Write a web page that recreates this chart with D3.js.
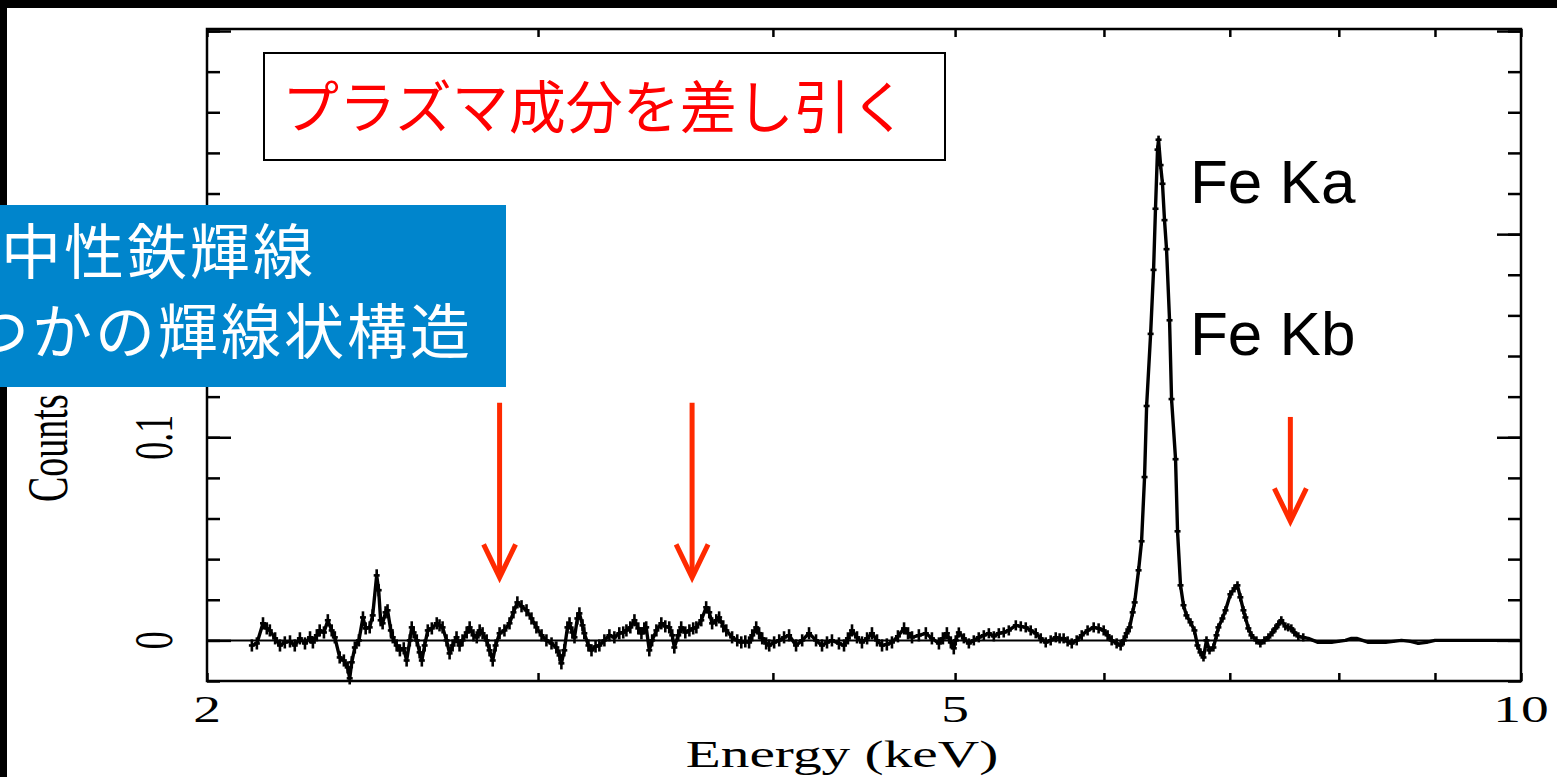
<!DOCTYPE html>
<html>
<head>
<meta charset="utf-8">
<script src="https://cdn.jsdelivr.net/npm/d3@7"></script>
<style>
  body { margin: 0; background: #000; }
  svg { display: block; }
</style>
</head>
<body>
<script>
// spectrum: energy (keV) and counts
var energy = [
  2.113,2.126,2.142,2.152,2.160,2.174,2.187,2.200,2.214,2.227,
  2.241,2.255,2.269,2.277,2.288,2.296,2.308,2.319,2.330,2.339,
  2.353,2.365,2.376,2.382,2.388,2.397,2.409,2.421,2.429,2.441,
  2.450,2.462,2.468,2.474,2.480,2.489,2.495,2.505,2.511,2.523,
  2.533,2.545,2.554,2.564,2.570,2.576,2.586,2.595,2.602,2.611,
  2.621,2.634,2.650,2.659,2.669,2.682,2.692,2.702,2.715,2.725,
  2.735,2.749,2.759,2.772,2.783,2.793,2.803,2.817,2.827,2.838,
  2.848,2.862,2.879,2.897,2.911,2.925,2.940,2.958,2.976,2.994,
  3.013,3.031,3.050,3.068,3.080,3.087,3.098,3.110,3.118,3.129,
  3.137,3.148,3.156,3.168,3.175,3.191,3.203,3.219,3.234,3.254,
  3.274,3.294,3.314,3.330,3.343,3.359,3.376,3.392,3.405,3.417,
  3.425,3.438,3.450,3.468,3.489,3.506,3.523,3.536,3.545,3.562,
  3.575,3.593,3.611,3.628,3.642,3.664,3.686,3.700,3.713,3.732,
  3.745,3.764,3.778,3.805,3.829,3.848,3.867,3.885,3.900,3.919,
  3.933,3.948,3.967,3.982,4.006,4.031,4.055,4.080,4.115,4.146,
  4.181,4.217,4.248,4.274,4.300,4.337,4.364,4.385,4.407,4.434,
  4.461,4.489,4.516,4.544,4.572,4.599,4.628,4.662,4.697,4.720,
  4.743,4.783,4.824,4.860,4.902,4.926,4.950,4.974,4.992,5.004,
  5.023,5.054,5.085,5.116,5.147,5.179,5.211,5.243,5.275,5.307,
  5.340,5.386,5.419,5.452,5.485,5.519,5.553,5.587,5.621,5.656,
  5.683,5.711,5.739,5.768,5.803,5.839,5.881,5.925,5.961,5.998,
  6.027,6.057,6.094,6.124,6.147,6.169,6.192,6.215,6.230,6.260,
  6.283,6.306,6.322,6.353,6.376,6.391,6.407,6.415,6.431,6.446,
  6.462,6.478,6.502,6.518,6.550,6.566,6.590,6.614,6.638,6.671,
  6.703,6.728,6.753,6.778,6.803,6.828,6.861,6.887,6.903,6.937,
  6.963,7.005,7.040,7.066,7.091,7.118,7.135,7.161,7.188,7.232,
  7.267,7.303,7.339,7.375,7.402,7.429,7.456,7.493,7.520,7.548,
  7.576,7.613,7.659,7.706,7.753,7.800,7.868,7.926,7.994,8.065,
  8.125,8.176,8.236,8.297,8.378,8.469,8.552,8.638,8.734,8.819,
  8.905,9.000,9.148,9.318,9.488,9.666,9.845,9.980
];
var counts = [
  -0.0025,-0.0015,0.0084,0.0059,0.0049,0.0010,-0.0025,-0.0010,-0.0005,-0.0025,
  0.0010,-0.0015,0.0015,-0.0010,0.0025,0.0049,0.0039,0.0099,0.0049,0.0015,
  -0.0084,-0.0099,-0.0133,-0.0187,-0.0108,-0.0035,0.0000,0.0113,0.0059,0.0064,
  0.0123,0.0320,0.0247,0.0099,0.0084,0.0138,0.0148,0.0049,0.0015,-0.0025,
  -0.0049,-0.0039,-0.0099,0.0000,0.0064,0.0039,0.0000,-0.0059,-0.0099,-0.0025,
  0.0049,0.0059,0.0084,0.0074,0.0064,0.0000,-0.0064,-0.0025,0.0015,-0.0025,
  0.0000,0.0039,0.0064,0.0025,0.0015,0.0049,0.0035,0.0000,-0.0049,-0.0099,
  -0.0025,0.0035,0.0049,0.0084,0.0138,0.0187,0.0168,0.0148,0.0108,0.0064,
  0.0025,0.0000,-0.0015,-0.0035,-0.0074,-0.0113,-0.0049,0.0064,0.0084,0.0039,
  0.0015,0.0108,0.0133,0.0074,0.0035,-0.0025,-0.0049,-0.0030,-0.0025,0.0000,
  0.0025,0.0015,0.0035,0.0039,0.0049,0.0064,0.0099,0.0059,0.0035,0.0059,
  0.0064,-0.0049,0.0000,0.0049,0.0084,0.0069,0.0064,0.0025,-0.0035,0.0025,
  0.0064,0.0039,0.0049,0.0059,0.0064,0.0099,0.0163,0.0138,0.0084,0.0099,
  0.0113,0.0069,0.0049,0.0015,0.0000,-0.0010,-0.0005,-0.0010,0.0025,0.0064,
  0.0035,0.0010,-0.0015,-0.0025,-0.0010,0.0000,0.0015,0.0025,-0.0025,0.0000,
  0.0035,0.0000,-0.0025,-0.0010,0.0000,-0.0015,-0.0025,0.0010,0.0049,0.0015,
  -0.0010,0.0010,0.0035,0.0000,-0.0025,-0.0020,-0.0010,0.0020,0.0059,0.0035,
  0.0015,0.0025,0.0035,0.0010,-0.0015,0.0010,0.0035,-0.0010,-0.0039,0.0000,
  0.0039,0.0010,-0.0015,0.0000,0.0015,0.0025,0.0035,0.0020,0.0035,0.0039,
  0.0049,0.0074,0.0069,0.0064,0.0049,0.0035,0.0010,-0.0010,0.0000,0.0015,
  0.0010,0.0010,-0.0005,-0.0015,0.0000,0.0025,0.0049,0.0064,0.0059,0.0049,
  0.0025,0.0000,-0.0015,-0.0025,0.0000,0.0035,0.0064,0.0138,0.0187,0.0345,
  0.0488,0.0804,0.1154,0.1509,0.1824,0.2125,0.2416,0.2465,0.2340,0.2248,
  0.2069,0.1926,0.1576,0.1188,0.0892,0.0537,0.0271,0.0173,0.0123,0.0089,
  0.0049,-0.0025,-0.0059,-0.0084,0.0000,-0.0049,-0.0035,0.0025,0.0064,0.0108,
  0.0148,0.0227,0.0256,0.0271,0.0212,0.0148,0.0113,0.0059,0.0025,0.0000,
  -0.0015,0.0000,0.0015,0.0039,0.0059,0.0079,0.0099,0.0069,0.0064,0.0059,
  0.0039,0.0020,0.0015,0.0010,0.0000,-0.0010,-0.0010,-0.0010,-0.0005,0.0000,
  0.0010,0.0010,0.0000,-0.0010,-0.0010,-0.0010,-0.0005,0.0000,-0.0005,-0.0015,
  -0.0010,0.0000,0.0000,0.0000,0.0000,0.0000,0.0000,0.0000
];

// rough error size by energy band (upper edges, then values)
var errEdges = [5.0, 6.2, 7.7];
var errValues = [0.003, 0.0025, 0.002, 0.0006];

var xTicks = [2, 3, 4, 5, 6, 7, 8, 9, 10];
var xLabels = [2, 5, 10];
var yMajor = [0, 0.1, 0.2, 0.3];
var yLabels = [0, 0.1];

// red arrows: energy, top and tip in counts
var arrowEnergy = [2.862, 3.623, 7.539];
var arrowTop = [0.117, 0.117, 0.110];
var arrowTip = [0.031, 0.031, 0.0586];

var lineNames = ["Fe Ka", "Fe Kb"];
var boxTitle = "プラズマ成分を差し引く";
var noteLines = ["中性鉄輝線", "つかの輝線状構造"];

var width = 1557;
var height = 777;

var svg = d3.select("body").append("svg")
    .attr("width", width)
    .attr("height", height);

// black slide edge, white panel
svg.append("rect").attr("width", width).attr("height", height).attr("fill", "#000");
svg.append("rect").attr("x", 7).attr("y", 8)
    .attr("width", width - 7).attr("height", height - 8).attr("fill", "#fff");

// plot box (note: "top" is taken by window.top, so prefixed names)
var pLeft = 207, pRight = 1521, pTop = 29, pBottom = 681;

var xScale = d3.scaleLog().domain([2, 10]).range([pLeft, pRight]);
var yScale = d3.scaleLinear().domain([-0.02, 0.301]).range([pBottom, pTop]);

function tidy(g) {
    g.select(".domain").remove();
    g.selectAll(".tick line").attr("stroke", "#000").attr("stroke-width", 2.5);
}

// x ticks, pointing inward on bottom and top
svg.append("g").attr("transform", "translate(0," + pBottom + ")")
    .call(d3.axisBottom(xScale).tickValues(xTicks).tickSizeInner(-8).tickSizeOuter(0).tickFormat(""))
    .call(tidy);
svg.append("g").attr("transform", "translate(0," + pTop + ")")
    .call(d3.axisTop(xScale).tickValues(xTicks).tickSizeInner(-8).tickSizeOuter(0).tickFormat(""))
    .call(tidy);

// y ticks, minor every 0.02 and major every 0.1
var yMinor = d3.range(-1, 16).map(function (i) { return i * 0.02; });
[[d3.axisLeft, pLeft], [d3.axisRight, pRight]].forEach(function (a) {
    svg.append("g").attr("transform", "translate(" + a[1] + ",0)")
        .call(a[0](yScale).tickValues(yMinor).tickSizeInner(-13).tickSizeOuter(0).tickFormat(""))
        .call(tidy);
    svg.append("g").attr("transform", "translate(" + a[1] + ",0)")
        .call(a[0](yScale).tickValues(yMajor).tickSizeInner(-24).tickSizeOuter(0).tickFormat(""))
        .call(tidy);
});

// frame
svg.append("rect")
    .attr("x", pLeft).attr("y", pTop)
    .attr("width", pRight - pLeft).attr("height", pBottom - pTop)
    .attr("fill", "none").attr("stroke", "#000").attr("stroke-width", 2.5);

// zero line
svg.append("line")
    .attr("x1", xScale(2)).attr("x2", xScale(10))
    .attr("y1", yScale(0)).attr("y2", yScale(0))
    .attr("stroke", "#000").attr("stroke-width", 2);

// spectrum
var data = energy.map(function (e, i) {
    var k = d3.bisectRight(errEdges, e);
    return { e: e, c: counts[i], err: errValues[k] };
});

var marks = svg.append("g").attr("stroke", "#000").attr("stroke-width", 2.6);
marks.selectAll("line.err").data(data).enter().append("line")
    .attr("class", "err")
    .attr("x1", function (d) { return xScale(d.e); })
    .attr("x2", function (d) { return xScale(d.e); })
    .attr("y1", function (d) { return yScale(d.c - d.err); })
    .attr("y2", function (d) { return yScale(d.c + d.err); });
marks.selectAll("line.bin").data(data.filter(function (d) { return d.e < 7.7; })).enter().append("line")
    .attr("class", "bin")
    .attr("x1", function (d) { return xScale(d.e) - 3; })
    .attr("x2", function (d) { return xScale(d.e) + 3; })
    .attr("y1", function (d) { return yScale(d.c); })
    .attr("y2", function (d) { return yScale(d.c); });

svg.append("path").datum(data)
    .attr("d", d3.line().x(function (d) { return xScale(d.e); }).y(function (d) { return yScale(d.c); }))
    .attr("fill", "none").attr("stroke", "#000")
    .attr("stroke-width", 3.4).attr("stroke-linejoin", "round");

// tick labels and axis titles (serif, stretched sideways like the scan)
var serif = "'Liberation Serif', 'Times New Roman', serif";

svg.append("g").selectAll("text").data(xLabels).enter().append("text")
    .attr("transform", function (d) { return "translate(" + xScale(d) + ",722) scale(1.5,1)"; })
    .attr("text-anchor", "middle")
    .style("font-family", serif).style("font-size", "37px")
    .text(function (d) { return d; });

svg.append("g").selectAll("text").data(yLabels).enter().append("text")
    .attr("transform", function (d) { return "translate(172," + yScale(d) + ") scale(1.5,1) rotate(-90)"; })
    .attr("text-anchor", "middle")
    .style("font-family", serif).style("font-size", "36px")
    .text(function (d) { return d; });

svg.append("text")
    .attr("transform", "translate(842,767) scale(1.55,1)")
    .attr("text-anchor", "middle")
    .style("font-family", serif).style("font-size", "37px")
    .text("Energy (keV)");

svg.append("text")
    .attr("transform", "translate(67,502) scale(1.5,1) rotate(-90)")
    .style("font-family", serif).style("font-size", "38px")
    .text("Counts");

// red arrows
var arrowColor = "#ff2a00";
arrowEnergy.forEach(function (e, i) {
    var ax = xScale(e), y0 = yScale(arrowTop[i]), y1 = yScale(arrowTip[i]);
    svg.append("line")
        .attr("x1", ax).attr("x2", ax).attr("y1", y0).attr("y2", y1 - 3)
        .attr("stroke", arrowColor).attr("stroke-width", 5);
    svg.append("path")
        .attr("d", "M" + (ax - 16) + "," + (y1 - 33) + "L" + ax + "," + y1 + "L" + (ax + 16) + "," + (y1 - 33))
        .attr("fill", "none").attr("stroke", arrowColor).attr("stroke-width", 5)
        .attr("stroke-linejoin", "miter");
});

// Fe line names
var sans = "'Liberation Sans', Arial, sans-serif";
svg.append("g").selectAll("text").data(lineNames).enter().append("text")
    .attr("x", 1190)
    .attr("y", function (d, i) { return 203 + i * 152; })
    .style("font-family", sans).style("font-size", "62px")
    .text(function (d) { return d; });

// boxed red title
var jp = "'Noto Sans CJK JP', sans-serif";
svg.append("rect")
    .attr("x", 264).attr("y", 53).attr("width", 681).attr("height", 107)
    .attr("fill", "#fff").attr("stroke", "#000").attr("stroke-width", 2);
svg.append("text")
    .attr("x", 282).attr("y", 128)
    .attr("fill", "#ff0000")
    .style("font-family", jp).style("font-size", "57px")
    .text(boxTitle);

// blue note box (runs off the left edge of the slide, as in the source)
svg.append("rect")
    .attr("x", 0).attr("y", 205).attr("width", 506).attr("height", 182)
    .attr("fill", "#0085cc");
svg.append("g").selectAll("text").data(noteLines).enter().append("text")
    .attr("x", function (d, i) { return i === 0 ? 1 : -31; })
    .attr("y", function (d, i) { return 274 + i * 80; })
    .attr("fill", "#fff")
    .style("font-family", jp).style("font-size", "60px")
    .style("letter-spacing", "3px")
    .text(function (d) { return d; });
</script>
</body>
</html>
